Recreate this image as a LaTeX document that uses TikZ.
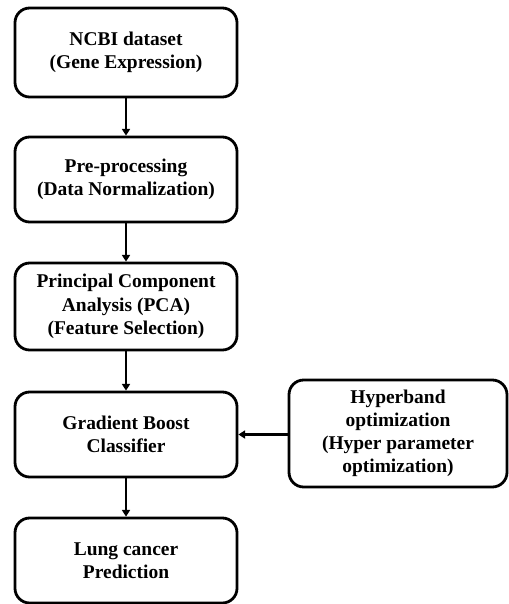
\documentclass[tikz,border=0pt]{standalone}
\usepackage{fontspec}
\setmainfont{Liberation Serif}
\usetikzlibrary{arrows.meta}
\begin{document}
\begin{tikzpicture}[x=0.75pt,y=-0.75pt,
  stepbox/.style={draw=black,line width=2.1pt,rounded corners=11pt,align=center,
    font=\bfseries\fontsize{14.6}{17.4}\selectfont,inner sep=0pt},
  conn/.style={line width=1.9pt,-{Triangle[length=5pt,width=6pt]}}]
\useasboundingbox (0,0) rectangle (509,604);
\node[stepbox,minimum width=166.5pt,minimum height=66.75pt] (a) at (126,52.5) {NCBI dataset\\(Gene Expression)};
\node[stepbox,minimum width=166.5pt,minimum height=63.75pt] (b) at (126,179.5) {Pre-processing\\(Data Normalization)};
\node[stepbox,minimum width=166.5pt,minimum height=65.25pt] (c) at (126,306.5) {Principal Component\\Analysis (PCA)\\(Feature Selection)};
\node[stepbox,minimum width=166.5pt,minimum height=63.75pt] (d) at (126,434.5) {Gradient Boost\\Classifier};
\node[stepbox,minimum width=166.5pt,minimum height=63.75pt] (e) at (126,560.5) {Lung cancer\\Prediction};
\node[stepbox,minimum width=163.5pt,minimum height=80.25pt] (h) at (398,433.5) {Hyperband\\optimization\\(Hyper parameter\\optimization)};
\draw[conn] (a) -- (b);
\draw[conn] (b) -- (c);
\draw[conn] (c) -- (d);
\draw[conn] (d) -- (e);
\draw[conn] (h.west |- d.east) -- (d.east);
\end{tikzpicture}
\end{document}
